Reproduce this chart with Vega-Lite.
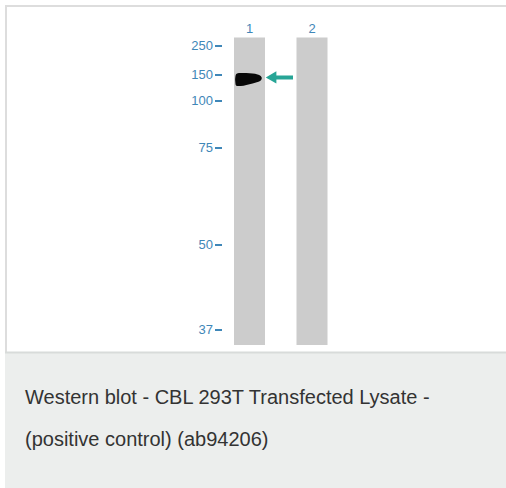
{
  "$schema": "https://vega.github.io/schema/vega-lite/v6.json",
  "width": 506,
  "height": 488,
  "autosize": "none",
  "padding": 0,
  "background": "#ffffff",
  "config": {"view": {"stroke": null}, "font": "Liberation Sans"},
  "datasets": {
    "lanes": [{"lane": 1, "label": "1"}, {"lane": 2, "label": "2"}],
    "markers": [{"mw": 250}, {"mw": 150}, {"mw": 100}, {"mw": 75}, {"mw": 50}, {"mw": 37}],
    "band": [
      {"pos": 0.77, "hi": 142.3, "lo": 140.4},
      {"pos": 0.78, "hi": 150.0, "lo": 130.8},
      {"pos": 0.80, "hi": 155.2, "lo": 128.8},
      {"pos": 0.86, "hi": 156.9, "lo": 128.8},
      {"pos": 0.95, "hi": 156.9, "lo": 130.8},
      {"pos": 1.05, "hi": 155.2, "lo": 133.7},
      {"pos": 1.13, "hi": 151.7, "lo": 136.5},
      {"pos": 1.18, "hi": 148.1, "lo": 139.4},
      {"pos": 1.195, "hi": 145.2, "lo": 142.3}
    ]
  },
  "resolve": {"scale": {"x": "independent", "y": "independent"}},
  "layer": [
    {
      "data": {"values": [{}]},
      "layer": [
        {
          "mark": {"type": "rect", "fill": "#eceeed"},
          "encoding": {
            "x": {"datum": 5, "type": "quantitative", "scale": {"domain": [0, 506], "range": [0, 506], "nice": false, "zero": false, "padding": 0}, "axis": null},
            "x2": {"datum": 506},
            "y": {"datum": 353, "type": "quantitative", "scale": {"domain": [0, 488], "range": [0, 488], "nice": false, "zero": false, "padding": 0}, "axis": null},
            "y2": {"datum": 488}
          }
        },
        {
          "mark": {"type": "rule", "stroke": "#dddddd", "strokeWidth": 2},
          "encoding": {
            "x": {"datum": 5, "type": "quantitative", "axis": null},
            "x2": {"datum": 506},
            "y": {"datum": 6, "type": "quantitative", "axis": null}
          }
        },
        {
          "mark": {"type": "rule", "stroke": "#dddddd", "strokeWidth": 2},
          "encoding": {
            "x": {"datum": 6, "type": "quantitative", "axis": null},
            "y": {"datum": 5, "type": "quantitative", "axis": null},
            "y2": {"datum": 353}
          }
        },
        {
          "mark": {"type": "rule", "stroke": "#d8dbda", "strokeWidth": 2},
          "encoding": {
            "x": {"datum": 5, "type": "quantitative", "axis": null},
            "x2": {"datum": 506},
            "y": {"datum": 352.5, "type": "quantitative", "axis": null}
          }
        },
        {
          "mark": {
            "type": "text",
            "text": ["Western blot - CBL 293T Transfected Lysate -", "(positive control) (ab94206)"],
            "align": "left",
            "baseline": "alphabetic",
            "lineHeight": 42,
            "fontSize": 20,
            "color": "#333333",
            "font": "Liberation Sans"
          },
          "encoding": {
            "x": {"datum": 25, "type": "quantitative", "axis": null},
            "y": {"datum": 404, "type": "quantitative", "axis": null}
          }
        }
      ]
    },
    {
      "layer": [
        {
          "data": {"name": "lanes"},
          "mark": {"type": "bar", "width": 31, "color": "#cccccc"},
          "encoding": {
            "x": {"field": "lane", "type": "quantitative", "scale": {"domain": [1, 2], "range": [249.5, 312], "nice": false, "zero": false, "padding": 0}, "axis": null},
            "y": {"datum": 279, "type": "quantitative", "scale": {"domain": [250, 150, 100, 75, 50, 37], "range": [46, 75, 101, 148, 245, 330], "nice": false, "zero": false, "padding": 0}, "axis": null},
            "y2": {"datum": 34.7}
          }
        },
        {
          "data": {"name": "lanes"},
          "mark": {"type": "text", "fontSize": 13, "color": "#3f87b8", "baseline": "alphabetic", "align": "center", "dy": -5},
          "encoding": {
            "x": {"field": "lane", "type": "quantitative", "axis": null},
            "y": {"datum": 279, "type": "quantitative", "axis": null},
            "text": {"field": "label"}
          }
        },
        {
          "data": {"name": "markers"},
          "mark": {"type": "text", "fontSize": 13, "color": "#3f87b8", "baseline": "middle", "align": "right"},
          "encoding": {
            "x": {"datum": 0.416, "type": "quantitative", "axis": null},
            "y": {"field": "mw", "type": "quantitative", "axis": null},
            "text": {"field": "mw", "type": "quantitative"}
          }
        },
        {
          "data": {"name": "markers"},
          "mark": {"type": "rule", "color": "#3f87b8", "strokeWidth": 2},
          "encoding": {
            "x": {"datum": 0.448, "type": "quantitative", "axis": null},
            "x2": {"datum": 0.56},
            "y": {"field": "mw", "type": "quantitative", "axis": null}
          }
        },
        {
          "data": {"name": "band"},
          "mark": {"type": "area", "color": "#080808", "interpolate": "monotone"},
          "encoding": {
            "x": {"field": "pos", "type": "quantitative", "axis": null},
            "y": {"field": "hi", "type": "quantitative", "axis": null},
            "y2": {"field": "lo"}
          }
        },
        {
          "data": {"values": [{}]},
          "mark": {"type": "rule", "color": "#27a596", "strokeWidth": 4},
          "encoding": {
            "x": {"datum": 1.40, "type": "quantitative", "axis": null},
            "x2": {"datum": 1.696},
            "y": {"datum": 145.2, "type": "quantitative", "axis": null}
          }
        },
        {
          "data": {"values": [{}]},
          "mark": {"type": "point", "shape": "triangle-left", "filled": true, "size": 150, "color": "#27a596", "opacity": 1},
          "encoding": {
            "x": {"datum": 1.345, "type": "quantitative", "axis": null},
            "y": {"datum": 145.2, "type": "quantitative", "axis": null}
          }
        }
      ]
    }
  ]
}
